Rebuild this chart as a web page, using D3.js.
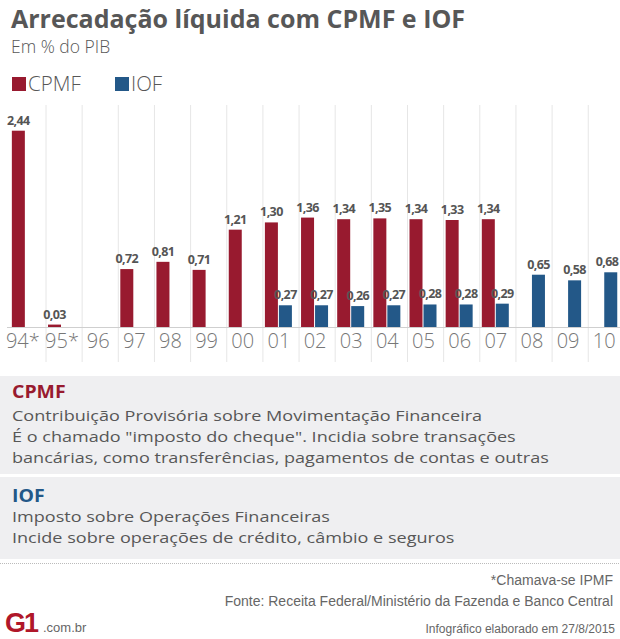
<!DOCTYPE html>
<html><head><meta charset="utf-8">
<script src="https://cdn.jsdelivr.net/npm/d3@7"></script>
<style>
html,body{margin:0;padding:0;background:#fff;}
svg{display:block;}
</style></head>
<body>
<svg id="c" width="620" height="639"></svg>
<script>
const years = ["94*","95*","96","97","98","99","00","01","02","03","04","05","06","07","08","09","10"];
const cpmf  = [2.44,0.03,0,0.72,0.81,0.71,1.21,1.30,1.36,1.34,1.35,1.34,1.33,1.34,0,0,0];
const iof   = [0,0,0,0,0,0,0,0.27,0.27,0.26,0.27,0.28,0.28,0.29,0.65,0.58,0.68];
const seriesNames = ["CPMF","IOF"];
const seriesColors = ["#981a2f","#235888"];
const title = "Arrecadação líquida com CPMF e IOF";
const subtitle = "Em % do PIB";
const cpmfNote = ["Contribuição Provisória sobre Movimentação Financeira",
  "É o chamado \"imposto do cheque\". Incidia sobre transações",
  "bancárias, como transferências, pagamentos de contas e outras"];
const iofNote = ["Imposto sobre Operações Financeiras",
  "Incide sobre operações de crédito, câmbio e seguros"];
const footNotes = ["*Chamava-se IPMF","Fonte: Receita Federal/Ministério da Fazenda e Banco Central"];
const credit = "Infográfico elaborado em 27/8/2015";

const svg = d3.select("#c");
const F = "'Open Sans', 'Noto Sans', sans-serif";
const txt = "#575757";

// title
svg.append("text").attr("x",11).attr("y",28).attr("font-family",F).attr("font-weight",700)
  .attr("font-size",25).attr("fill",txt).text(title);
svg.append("text").attr("x",11).attr("y",53).attr("font-family",F).attr("font-weight",300)
  .attr("font-size",17.5).attr("fill",txt).text(subtitle);

// legend
const legX = [12,115];
seriesNames.forEach((n,i)=>{
  svg.append("rect").attr("x",legX[i]).attr("y",77).attr("width",14).attr("height",14).attr("fill",seriesColors[i]);
  svg.append("text").attr("x",legX[i]+16).attr("y",91).attr("font-family",F).attr("font-weight",300)
    .attr("font-size",20.5).attr("fill",txt).text(n);
});

// chart
const x = d3.scaleBand().domain(years).range([9.85, 9.85+36.15*17]).padding(0);
const y = d3.scaleLinear().domain([0,2.44]).range([327,130.7]);
const bw = 13;
const g = svg.append("g");

// gridlines (separators)
g.selectAll("line.grid").data(years.slice(1)).join("line")
  .attr("x1",d=>x(d)).attr("x2",d=>x(d)).attr("y1",105).attr("y2",362)
  .attr("stroke","#e6e6e6").attr("stroke-width",1);

// baseline
g.append("line").attr("x1",7).attr("x2",620).attr("y1",327.5).attr("y2",327.5)
  .attr("stroke","#cfcfcf").attr("stroke-width",1);

const data = years.map((yr,i)=>({yr, v:[cpmf[i],iof[i]]}));
const offs = [2,16];
[0,1].forEach(s=>{
  g.selectAll("rect.s"+s).data(data).join("rect")
    .attr("x",d=>x(d.yr)+offs[s]).attr("width",bw)
    .attr("y",d=>y(d.v[s])).attr("height",d=>y(0)-y(d.v[s]))
    .attr("fill",seriesColors[s]);
  g.selectAll("text.l"+s).data(data.filter(d=>d.v[s]>0)).join("text")
    .attr("x",d=>Math.min(x(d.yr)+offs[s]+bw/2, 607)).attr("y",d=>y(d.v[s])-6)
    .attr("text-anchor","middle").attr("font-family",F).attr("font-weight",700)
    .attr("font-size",12.5).attr("letter-spacing","-0.6").attr("fill","#555")
    .text(d=>d3.format(".2f")(d.v[s]).replace(".",","));
});

// x axis labels
g.selectAll("text.yr").data(years).join("text")
  .attr("x",(d,i)=>x(d)+(i===0?13:16)).attr("y",348).attr("text-anchor","middle")
  .attr("font-family",F).attr("font-weight",300).attr("font-size",20).attr("fill","#777")
  .text(d=>d);

// info boxes (glyphs slightly widened, like the reference)
function stretch(sel,k){
  sel.each(function(){
    const w=this.getComputedTextLength();
    d3.select(this).attr("textLength",w*k).attr("lengthAdjust","spacingAndGlyphs");
  });
}
function box(y0,y1,head,color,lines,headY,lineY){
  svg.append("rect").attr("x",0).attr("y",y0).attr("width",620).attr("height",y1-y0).attr("fill","#efeff1");
  const h=svg.append("text").attr("x",12).attr("y",headY).attr("font-family",F).attr("font-weight",700)
    .attr("font-size",18).attr("fill",color).text(head);
  stretch(h,1.08);
  lines.forEach((l,i)=>{
    const t=svg.append("text").attr("x",12).attr("y",lineY+i*21).attr("font-family",F)
      .attr("font-size",15.3).attr("fill",txt).text(l);
    stretch(t,1.18);
  });
}
box(376,474,"CPMF",seriesColors[0],cpmfNote,398,421);
box(477,559,"IOF",seriesColors[1],iofNote,502,522);

svg.append("line").attr("x1",0).attr("x2",620).attr("y1",563.5).attr("y2",563.5)
  .attr("stroke","#bbb").attr("stroke-width",1).attr("stroke-dasharray","1,1");

// footer
const FN = "'Liberation Sans Narrow','Arial Narrow','Liberation Sans',Arial,sans-serif";
footNotes.forEach((t,i)=>svg.append("text").attr("x",613).attr("y",585+i*21).attr("text-anchor","end")
  .attr("font-family",FN).attr("font-size",14).attr("fill","#666").text(t));
svg.append("text").attr("x",615).attr("y",633).attr("text-anchor","end")
  .attr("font-family",FN).attr("font-size",12).attr("fill","#666").text(credit);

// G1 logo
const lg = svg.append("g");
lg.append("text").attr("x",5).attr("y",632).attr("font-family","'Liberation Sans',Arial,sans-serif")
  .attr("font-weight",900).attr("font-size",27).attr("letter-spacing","-2").attr("fill","#b0172a").text("G1");
lg.append("text").attr("x",43).attr("y",632).attr("font-family","'Liberation Sans',Arial,sans-serif")
  .attr("font-size",13).attr("fill","#666").text(".com.br");
</script>
</body></html>
